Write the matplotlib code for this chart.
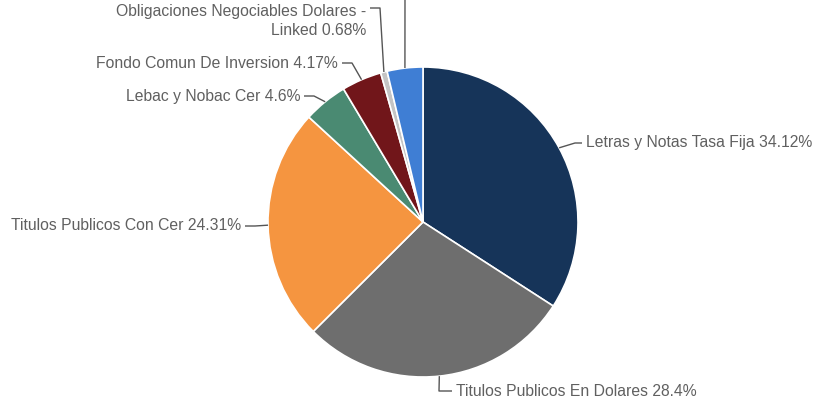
import numpy as np
import matplotlib.pyplot as plt

plt.rcParams['font.family'] = ['Liberation Sans', 'DejaVu Sans']

# carteras por tipo de instrumento (%)
labels = ["Letras y Notas Tasa Fija", "Titulos Publicos En Dolares",
          "Titulos Publicos Con Cer", "Lebac y Nobac Cer",
          "Fondo Comun De Inversion", "Obligaciones Negociables Dolares -\nLinked",
          "Otros"]
values = [34.12, 28.4, 24.31, 4.6, 4.17, 0.68, 3.72]
colors = ["#163459", "#6e6e6e", "#f59540", "#4a8a72", "#71161a", "#c4c4c4", "#3f7ed4"]

W, H = 815, 403
fig = plt.figure(figsize=(W / 100, H / 100), dpi=100)
ax = fig.add_axes([0, 0, 1, 1])

cx, cy, r = 423, H - 222, 155
wedges, _ = ax.pie(values, colors=colors, startangle=90, counterclock=False,
                   center=(cx, cy), radius=r, frame=True,
                   wedgeprops=dict(edgecolor='white', linewidth=1.2))
ax.set_xlim(0, W)
ax.set_ylim(0, H)
ax.set_aspect('equal')
ax.axis('off')

# elbow and line end (pixels from the top), text alignment
elbows = [
    ((575, 143), (582, 143), 'left'),
    ((439, 391), (452, 391), 'left'),
    ((255, 226), (245, 226), 'right'),
    ((314, 96), (304, 96), 'right'),
    ((352, 63), (342, 63), 'right'),
    ((380, 8), (370, 8), 'right'),
    ((405, -10), None, None),
]

txt_c = '#606060'
line_c = '#555555'
for w, v, lab, (elb, end, ha) in zip(wedges, values, labels, elbows):
    mid = np.deg2rad((w.theta1 + w.theta2) / 2)
    ex, ey = cx + r * np.cos(mid), cy + r * np.sin(mid)
    xs = [ex, elb[0]]
    ys = [ey, H - elb[1]]
    if end is not None:
        xs.append(end[0])
        ys.append(H - end[1])
    ax.plot(xs, ys, color=line_c, lw=1, solid_capstyle='butt')
    if end is None:
        continue
    tx = end[0] + (4 if ha == 'left' else -4)
    txt = f"{lab} {v:g}%"
    if '\n' in lab:
        # two-line label, first line level with the elbow
        ax.text(tx, H - end[1] + 4, txt, ha=ha, va='top', fontsize=11.3,
                color=txt_c, linespacing=1.35)
    else:
        ax.text(tx, H - end[1], txt, ha=ha, va='center', fontsize=11.3, color=txt_c)

fig.savefig('out.png', dpi=100, facecolor='white')
